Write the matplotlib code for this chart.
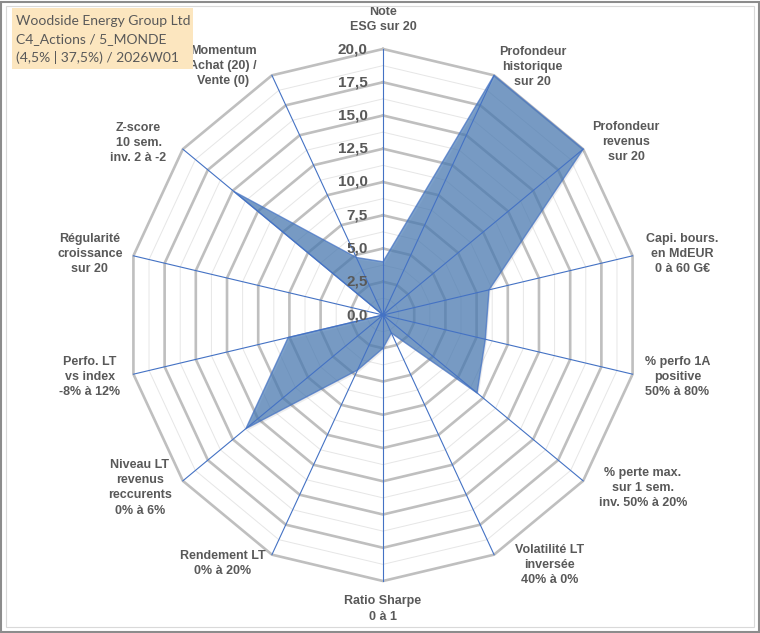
import numpy as np
import matplotlib
matplotlib.use("Agg")
import matplotlib.pyplot as plt
from matplotlib.patches import Rectangle

# --- data -------------------------------------------------------------
labels = [
    "Note\nESG sur 20",
    "Profondeur\nhistorique\nsur 20",
    "Profondeur\nrevenus\nsur 20",
    "Capi. bours.\nen MdEUR\n0 à 60 G€",
    "% perfo 1A\npositive\n50% à 80%",
    "% perte max.\nsur 1 sem.\ninv. 50% à 20%",
    "Volatilité LT\ninversée\n40% à 0%",
    "Ratio Sharpe\n0 à 1",
    "Rendement LT\n0% à 20%",
    "Niveau LT\nrevenus\nreccurents\n0% à 6%",
    "Perfo. LT\nvs index\n-8% à 12%",
    "Régularité\ncroissance\nsur 20",
    "Z-score\n10 sem.\ninv. 2 à -2",
    "Momentum\nAchat (20) /\nVente (0)",
]
values = [4.0, 20.0, 20.0, 8.5, 8.2, 9.4, 1.5, 2.5, 4.6, 13.7, 7.6, 0.0, 14.9, 4.8]
ticks = [0, 2.5, 5, 7.5, 10, 12.5, 15, 17.5, 20]
title_lines = ["Woodside Energy Group Ltd", "C4_Actions / 5_MONDE", "(4,5% | 37,5%) / 2026W01"]

# label anchor points (data units, same frame as the radar)
lab_x = [0, 11.7, 19.0, 23.4, 23.0, 20.3, 13.0, 0, -12.5, -19.0, -22.9, -22.9, -19.1, -12.5]
lab_y = [22.2, 18.65, 13.0, 4.6, -4.65, -13.0, -18.8, -22.1, -18.7, -13.0, -4.65, 4.6, 12.95, 18.7]

GRAY_TXT = "#595959"

n = len(labels)
theta = np.arange(n) * 2 * np.pi / n

fig = plt.figure(figsize=(7.6, 6.33), dpi=100)
ax = fig.add_axes([0, 0, 1, 1])
# centre of the radar sits at (383, 315) px; 20 units = 256 px wide, 266 px tall
ax.set_xlim(-383 / 12.8, (760 - 383) / 12.8)
ax.set_ylim(-(633 - 315) / 13.3, 315 / 13.3)
ax.axis("off")

tc = np.append(theta, theta[0])
# minor rings
for lev in np.arange(1.25, 20, 2.5):
    ax.plot(lev * np.sin(tc), lev * np.cos(tc), color="#E6E6E6", lw=0.7, zorder=1)
# major rings
for lev in ticks[1:]:
    ax.plot(lev * np.sin(tc), lev * np.cos(tc), color="#BFBFBF", lw=1.9, zorder=2)

# series
v = np.append(values, values[0])
ax.fill(v * np.sin(tc) + 0.12, v * np.cos(tc) - 0.15, color="#000000", alpha=0.07, lw=0, zorder=2.5)
ax.fill(v * np.sin(tc), v * np.cos(tc), facecolor="#4A7BB4", alpha=0.72,
        edgecolor="#4472C4", lw=1.0, zorder=3)

# spokes
for t in theta:
    ax.plot([0, 20 * np.sin(t)], [0, 20 * np.cos(t)], color="#4472C4", lw=0.8, zorder=4)

# radial tick labels
for lev in ticks:
    ax.text(-1.2, lev, f"{lev:.1f}".replace(".", ","), ha="right", va="center",
            fontsize=11, fontweight="bold", color=GRAY_TXT, family="Liberation Sans", zorder=5)

# category labels
for lab, x, y in zip(labels, lab_x, lab_y):
    ax.text(x, y, lab, ha="center", va="center", fontsize=9, fontweight="bold",
            color=GRAY_TXT, family="Liberation Sans", linespacing=1.35, zorder=5)

# title box
fig.patches.append(Rectangle((12 / 760, 1 - 69 / 633), 181 / 760, 61 / 633,
                             transform=fig.transFigure, facecolor="#FCE6BF",
                             edgecolor="none", zorder=0))
for i, s in enumerate(title_lines):
    fig.text(16 / 760, 1 - (21 + 18.5 * i) / 633, s, ha="left", va="center",
             fontsize=10, color=GRAY_TXT, family="Lato")

# frames
fig.patches.append(Rectangle((1 / 760, 1 / 633), 757.5 / 760, 630.5 / 633,
                             transform=fig.transFigure, fill=False,
                             edgecolor="#8C8C8C", lw=1.5))
fig.patches.append(Rectangle((6 / 760, 6 / 633), 748 / 760, 621 / 633,
                             transform=fig.transFigure, fill=False,
                             edgecolor="#D9D9D9", lw=0.8))

fig.savefig("out.png", dpi=100)
